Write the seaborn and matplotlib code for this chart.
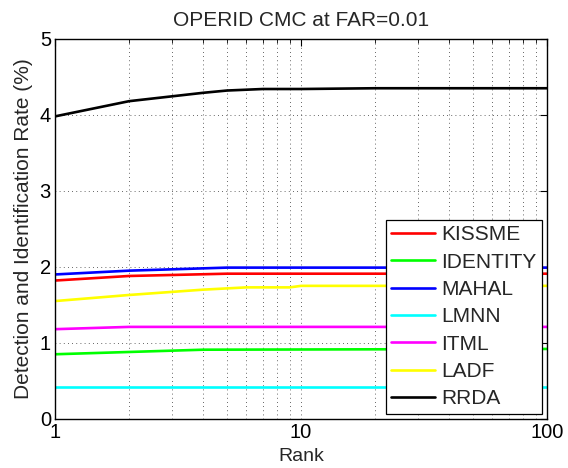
import pandas as pd
import matplotlib.pyplot as plt
import numpy as np
import seaborn as sns
from matplotlib.ticker import LogLocator, FixedLocator, NullFormatter

# values (rank -> rate in %)
methods = ['KISSME', 'IDENTITY', 'MAHAL', 'LMNN', 'ITML', 'LADF', 'RRDA']
colors = ['#ff0000', '#00ff00', '#0000ff', '#00ffff', '#ff00ff', '#ffff00', '#000000']

kissme_rank = [1, 2, 5, 100]
kissme_val = [1.82, 1.88, 1.91, 1.91]

identity_rank = [1, 2, 4, 100]
identity_val = [0.85, 0.88, 0.91, 0.92]

mahal_rank = [1, 2, 5, 100]
mahal_val = [1.90, 1.95, 1.99, 1.99]

lmnn_rank = [1, 100]
lmnn_val = [0.42, 0.42]

itml_rank = [1, 2, 100]
itml_val = [1.18, 1.21, 1.21]

ladf_rank = [1, 2, 4, 6, 9, 10, 100]
ladf_val = [1.55, 1.63, 1.70, 1.73, 1.73, 1.75, 1.75]

rrda_rank = [1, 2, 4, 5, 7, 10, 20, 100]
rrda_val = [3.98, 4.18, 4.29, 4.32, 4.34, 4.34, 4.35, 4.35]

ranks = [kissme_rank, identity_rank, mahal_rank, lmnn_rank, itml_rank, ladf_rank, rrda_rank]
vals = [kissme_val, identity_val, mahal_val, lmnn_val, itml_val, ladf_val, rrda_val]

rows = []
for m, r, v in zip(methods, ranks, vals):
    for a, b in zip(r, v):
        rows.append({'Rank': a, 'Rate': b, 'Method': m})
df = pd.DataFrame(rows)

sns.set_style('white')
plt.rcParams['font.family'] = ['Liberation Sans', 'DejaVu Sans']

fig = plt.figure(figsize=(5.68, 4.68), dpi=100)
ax = fig.add_axes([0.097, 0.105, 0.866, 0.812])

sns.lineplot(data=df, x='Rank', y='Rate', hue='Method', hue_order=methods,
             palette=colors, linewidth=1.9, ax=ax, estimator=None, sort=True)

ax.set_xscale('log')
ax.set_xlim(1, 100)
ax.set_ylim(0, 5)
ax.set_xticks([1, 10, 100])
ax.set_xticklabels(['1', '10', '100'])
ax.xaxis.set_minor_locator(LogLocator(base=10, subs=np.arange(2, 10)))
ax.xaxis.set_minor_formatter(NullFormatter())
ax.set_yticks([0, 1, 2, 3, 4, 5])
ax.yaxis.set_minor_locator(FixedLocator([]))

ax.grid(True, which='major', color='#333333', linestyle=(0, (1, 4)), linewidth=0.6)
ax.grid(True, which='minor', axis='x', color='#333333', linestyle=(0, (1, 4)), linewidth=0.6)

for s in ax.spines.values():
    s.set_color('black')
    s.set_linewidth(1.0)

ax.tick_params(which='both', direction='in', top=True, right=True, labelsize=14.5, colors='black')
ax.tick_params(which='major', length=5, width=0.8, pad=3)
ax.tick_params(which='minor', length=3, width=0.6)

ax.set_title('OPERID CMC at FAR=0.01', fontsize=15, pad=9)
ax.set_xlabel('Rank', fontsize=14, labelpad=4)
ax.set_ylabel('Detection and Identification Rate (%)', fontsize=15, labelpad=5)

leg = ax.legend(loc='lower right', fontsize=15, frameon=True, fancybox=False,
                edgecolor='black', borderaxespad=0.25, handlelength=2.1,
                labelspacing=0.4, borderpad=0.25, handletextpad=0.3)
leg.get_frame().set_linewidth(0.9)
leg.get_frame().set_alpha(1)

fig.savefig('out.png', dpi=100)
